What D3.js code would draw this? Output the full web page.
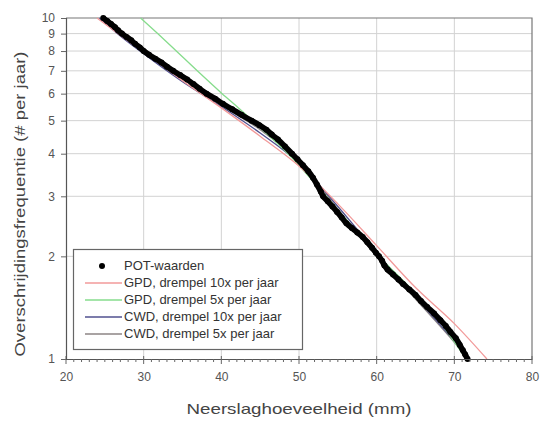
<!DOCTYPE html>
<html>
<head>
<meta charset="utf-8">
<script src="https://d3js.org/d3.v7.min.js"></script>
<style>
  body { margin: 0; background: #fff; }
  text { font-family: "Liberation Sans", Arial, sans-serif; }
</style>
</head>
<body>
<svg id="chart" width="542" height="421"></svg>
<script>
const potX = [24.8, 25.3, 25.8, 26.3, 26.7, 27.2, 27.8, 28.4, 28.9, 29.5, 30.0,
  30.7, 31.5, 32.3, 33.0, 33.8, 34.7, 35.6, 36.4, 37.2, 38.1, 39.2, 40.2, 41.4,
  42.6, 43.9, 44.9, 45.8, 46.5, 47.3, 48.2, 49.1, 49.8, 50.5, 51.2, 51.8, 52.3,
  52.8, 53.1, 53.7, 54.3, 54.9, 55.5, 56.1, 56.8, 57.5, 58.2, 58.8, 59.4, 59.9,
  60.3, 60.7, 61.0, 61.4, 62.1, 62.8, 63.4, 64.2, 65.0, 65.7, 66.5, 67.4, 68.2,
  68.9, 69.5, 70.2, 70.7, 71.1, 71.4, 71.7];
const potF = [10, 9.8, 9.6, 9.4, 9.2, 9.0, 8.8, 8.6, 8.4, 8.2, 8.0,
  7.8, 7.6, 7.4, 7.2, 7.0, 6.8, 6.6, 6.4, 6.2, 6.0, 5.8, 5.6, 5.4,
  5.2, 5.0, 4.85, 4.7, 4.55, 4.4, 4.2, 4.0, 3.85, 3.7, 3.55, 3.4, 3.25,
  3.1, 3.0, 2.9, 2.8, 2.7, 2.6, 2.5, 2.42, 2.35, 2.28, 2.2, 2.12, 2.05,
  2.0, 1.94, 1.88, 1.83, 1.77, 1.71, 1.66, 1.6, 1.54, 1.48, 1.42, 1.36, 1.30,
  1.25, 1.20, 1.15, 1.10, 1.06, 1.03, 1.0];

// fitted verdelingen
const gpd10X = [24.0, 27, 30, 35, 40, 45, 50, 55, 60, 65, 70, 74.2];
const gpd10F = [10, 8.9, 7.95, 6.55, 5.45, 4.5, 3.68, 2.85, 2.15, 1.62, 1.27, 1.0];
const gpd5X = [29.6, 31.8, 34.2, 36.9, 40.1, 42.4, 44.0, 48.6, 53.5, 60.3, 64.5, 68.2, 71.5];
const gpd5F = [10, 9, 8, 7, 6, 5.4, 5, 4, 3, 2, 1.6, 1.28, 1.0];
const cwd10X = [24.3, 27, 30, 35, 40, 45, 50, 55, 60, 65, 70, 72];
const cwd10F = [10, 8.85, 7.85, 6.5, 5.5, 4.6, 3.75, 2.8, 2.05, 1.52, 1.13, 1.0];
const cwd5X = [25.0, 30, 35, 40, 45, 50, 55, 60, 65, 70, 71.8];
const cwd5F = [10, 8.05, 6.65, 5.55, 4.7, 3.8, 2.75, 2.0, 1.5, 1.12, 1.0];

const xTicks = [20, 30, 40, 50, 60, 70, 80];
const yTicks = [1, 2, 3, 4, 5, 6, 7, 8, 9, 10];
const legendLabels = ["POT-waarden", "GPD, drempel 10x per jaar", "GPD, drempel 5x per jaar",
  "CWD, drempel 10x per jaar", "CWD, drempel 5x per jaar"];

const svg = d3.select("#chart");
const pLeft = 66, pRight = 532, pTop = 18, pBottom = 359;

const x = d3.scaleLinear().domain([20, 80]).range([pLeft, pRight]);
const y = d3.scaleLog().domain([1, 10]).range([pBottom, pTop]);

// gridlines
const grid = svg.append("g");
grid.selectAll(".gx").data(xTicks.slice(1, -1)).enter().append("line")
  .attr("x1", d => x(d)).attr("x2", d => x(d)).attr("y1", pTop).attr("y2", pBottom)
  .attr("stroke", "#d2d2d2").attr("stroke-width", 1);
grid.selectAll(".gy").data(yTicks.slice(1, -1)).enter().append("line")
  .attr("x1", pLeft).attr("x2", pRight).attr("y1", d => y(d)).attr("y2", d => y(d))
  .attr("stroke", "#d2d2d2").attr("stroke-width", 1);

// frame top/right
svg.append("path")
  .attr("d", `M${pLeft},${pTop}H${pRight}V${pBottom}`)
  .attr("fill", "none").attr("stroke", "#777").attr("stroke-width", 1.2);

// lines
const series = [
  {xs: cwd5X, fs: cwd5F, color: "#8c8585"},
  {xs: cwd10X, fs: cwd10F, color: "#50508f"},
  {xs: gpd5X, fs: gpd5F, color: "#86dc8c"},
  {xs: gpd10X, fs: gpd10F, color: "#f29a9a"}
];
const line = d3.line().x(d => x(d[0])).y(d => y(d[1])).curve(d3.curveMonotoneX);
series.forEach(s => {
  svg.append("path")
    .datum(s.xs.map((v, i) => [v, s.fs[i]]))
    .attr("d", line)
    .attr("fill", "none").attr("stroke", s.color).attr("stroke-width", 1.3);
});

// POT points
const pot = potX.map((v, i) => [v, potF[i]]);
svg.append("path").datum(pot)
  .attr("d", d3.line().x(d => x(d[0])).y(d => y(d[1])).curve(d3.curveMonotoneY))
  .attr("fill", "none").attr("stroke", "#000").attr("stroke-width", 5.6)
  .attr("stroke-linejoin", "round");
svg.selectAll(".dot").data(pot).enter().append("circle")
  .attr("class", "dot")
  .attr("cx", d => x(d[0])).attr("cy", d => y(d[1])).attr("r", 3)
  .attr("fill", "#000");

// axes
const xAxis = d3.axisBottom(x).tickValues(xTicks).tickSize(0).tickFormat(d3.format("d"));
const gx = svg.append("g").attr("transform", `translate(0,${pBottom})`).call(xAxis);
gx.select(".domain").attr("stroke", "#555").attr("stroke-width", 1.2);
gx.selectAll("text").attr("dy", "1.55em").attr("font-size", 12).attr("fill", "#555");
// minor ticks every mm
gx.selectAll(".minor").data(d3.range(20, 81)).enter().append("line")
  .attr("x1", d => x(d)).attr("x2", d => x(d))
  .attr("y1", 0).attr("y2", d => d % 10 === 0 ? 5 : 3)
  .attr("stroke", "#666").attr("stroke-width", 1);
gx.selectAll(".major").data(xTicks).enter().append("line")
  .attr("x1", d => x(d)).attr("x2", d => x(d)).attr("y1", -3).attr("y2", 0)
  .attr("stroke", "#666");

const yAxis = d3.axisLeft(y).tickValues(yTicks).tickSize(5).tickPadding(6).tickFormat(d3.format("d"));
const gy = svg.append("g").attr("transform", `translate(${pLeft},0)`).call(yAxis);
gy.select(".domain").attr("stroke", "#555").attr("stroke-width", 1.2);
gy.selectAll(".tick line").attr("stroke", "#666");
gy.selectAll("text").attr("font-size", 12).attr("fill", "#555");

// axis titles
svg.append("text").attr("x", x(50)).attr("y", 414).attr("text-anchor", "middle")
  .attr("font-size", 15).attr("fill", "#444")
  .attr("textLength", 225).attr("lengthAdjust", "spacingAndGlyphs")
  .text("Neerslaghoeveelheid (mm)");
svg.append("text").attr("transform", "translate(25,204) rotate(-90)")
  .attr("text-anchor", "middle").attr("font-size", 15).attr("fill", "#444")
  .attr("textLength", 305).attr("lengthAdjust", "spacingAndGlyphs")
  .text("Overschrijdingsfrequentie (# per jaar)");

// legend
const lg = svg.append("g");
lg.append("rect").attr("x", 73.5).attr("y", 249.5).attr("width", 229).attr("height", 100)
  .attr("fill", "#fff").attr("stroke", "#666").attr("stroke-width", 1.2);
const legendColors = ["#000", "#f29a9a", "#86dc8c", "#50508f", "#8c8585"];
legendLabels.forEach((lab, i) => {
  const ly = 266 + i * 17;
  if (i === 0) {
    lg.append("circle").attr("cx", 102).attr("cy", ly).attr("r", 3).attr("fill", "#000");
  } else {
    lg.append("line").attr("x1", 85).attr("x2", 122).attr("y1", ly).attr("y2", ly)
      .attr("stroke", legendColors[i]).attr("stroke-width", 1.3);
  }
  lg.append("text").attr("x", 124).attr("y", ly + 4).attr("font-size", 13)
    .attr("fill", "#333").text(lab);
});
</script>
</body>
</html>
